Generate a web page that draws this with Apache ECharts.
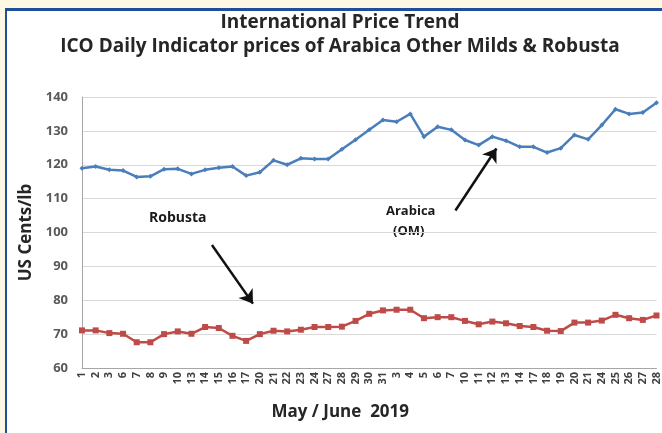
<!DOCTYPE html>
<html><head><meta charset="utf-8">
<script src="https://cdn.jsdelivr.net/npm/echarts@6/dist/echarts.min.js"></script>
<style>
html,body{margin:0;padding:0;background:#fdf7e4;}
#frame{position:absolute;left:5px;top:8px;width:657px;height:425px;background:#fff;border-left:2px solid #1d4f9c;border-top:3px solid #1d4f9c;box-sizing:border-box;}
#c{position:absolute;left:0;top:0;width:662px;height:433px;}
</style></head>
<body><div id="frame"></div><div id="c"></div>
<script>
const dates = ['1','2','3','6','7','8','9','10','13','14','15','16','17','20','21','22','23','24','27','28','29','30','31',
  '3','4','5','6','7','10','11','12','13','14','17','18','19','20','21','24','25','26','27','28'];
const arabica = [119.0,119.5,118.5,118.3,116.4,116.6,118.7,118.8,117.3,118.5,119.1,119.5,116.8,117.8,121.3,120.0,121.9,121.7,121.7,124.6,127.4,130.3,
  133.2,132.7,135.0,128.3,131.2,130.3,127.3,125.8,128.3,127.1,125.3,125.3,123.6,124.9,128.8,127.5,131.7,136.4,135.0,135.4,138.3];
const robusta = [71.1,71.1,70.3,70.1,67.6,67.6,70.0,70.8,70.1,72.1,71.8,69.5,68.0,70.0,71.0,70.8,71.3,72.1,72.1,72.2,73.9,76.0,
  77.0,77.2,77.2,74.7,75.0,75.0,73.9,72.9,73.7,73.2,72.4,72.1,71.0,70.9,73.4,73.4,74.0,75.7,74.7,74.2,75.5];
const yTicks = [60,70,80,90,100,110,120,130,140];
// annotation arrows in data space: [dayIndex, price]
const arabicaArrow = [[27.3,106.5],[30.3,124.8]];
const robustaArrow = [[9.5,96.3],[12.5,79.0]];

const chart = echarts.init(document.getElementById('c'), null, {renderer:'canvas'});
const arrowStyle = {symbol:['none','arrow'], symbolSize:13, silent:true, label:{show:false},
  lineStyle:{color:'#111', width:2.5, type:'solid'}, itemStyle:{color:'#111'}};
const F = 'Open Sans';
chart.setOption({
  animation:false,
  backgroundColor:'transparent',
  title:{text:'International Price Trend\nICO Daily Indicator prices of Arabica Other Milds & Robusta',
    left:340, textAlign:'center', top:11, padding:0,
    textStyle:{fontFamily:F, fontWeight:'bold', fontSize:19, lineHeight:24, color:'#262626'}},
  grid:{left:82, right:5, top:97, bottom:65},
  xAxis:[{type:'category', data:dates, boundaryGap:false,
    name:'May / June  2019', nameLocation:'middle', nameGap:36,
    nameTextStyle:{fontFamily:F, fontWeight:'bold', fontSize:17, color:'#262626', padding:[0,58,0,0]},
    axisLine:{lineStyle:{color:'#a6a6a6'}}, axisTick:{show:false},
    axisLabel:{interval:0, rotate:90, fontSize:11, fontFamily:F, fontWeight:'bold', color:'#404040', margin:4}},
    {type:'value', min:0, max:dates.length-1, show:false}],
  yAxis:{type:'value', min:yTicks[0], max:yTicks[yTicks.length-1], interval:10,
    name:'US Cents/lb', nameLocation:'middle', nameGap:44,
    nameTextStyle:{fontFamily:F, fontWeight:'bold', fontSize:17, color:'#262626'},
    axisLine:{show:true, lineStyle:{color:'#a6a6a6'}}, axisTick:{show:false},
    axisLabel:{fontSize:13, fontFamily:F, fontWeight:'bold', color:'#595959', margin:14},
    splitLine:{lineStyle:{color:'#d9d9d9'}}},
  series:[
    {name:'Arabica', type:'line', data:arabica, symbol:'diamond', symbolSize:5,
      lineStyle:{color:'#4a7ebb', width:2.5}, itemStyle:{color:'#4a7ebb'}},
    {name:'Robusta', type:'line', data:robusta, symbol:'rect', symbolSize:6,
      lineStyle:{color:'#be4b48', width:2.5}, itemStyle:{color:'#be4b48'}},
    {name:'arrows', type:'line', xAxisIndex:1, data:[], silent:true,
      markLine:Object.assign({data:[
        [{coord:arabicaArrow[0]},{coord:arabicaArrow[1]}],
        [{coord:robustaArrow[0]},{coord:robustaArrow[1]}]
      ]}, arrowStyle)}
  ],
  graphic:[
    {type:'text', left:149, top:211, style:{text:'Robusta', font:'bold 14px "Open Sans"', fill:'#1a1a1a'}},
    {type:'text', left:386, top:205, style:{text:'Arabica', font:'bold 13px "Open Sans"', fill:'#1a1a1a'}},
    {type:'text', left:393, top:225, style:{text:'(OM)', font:'bold 13px "Open Sans"', fill:'#1a1a1a'}}
  ]
});
</script></body></html>
